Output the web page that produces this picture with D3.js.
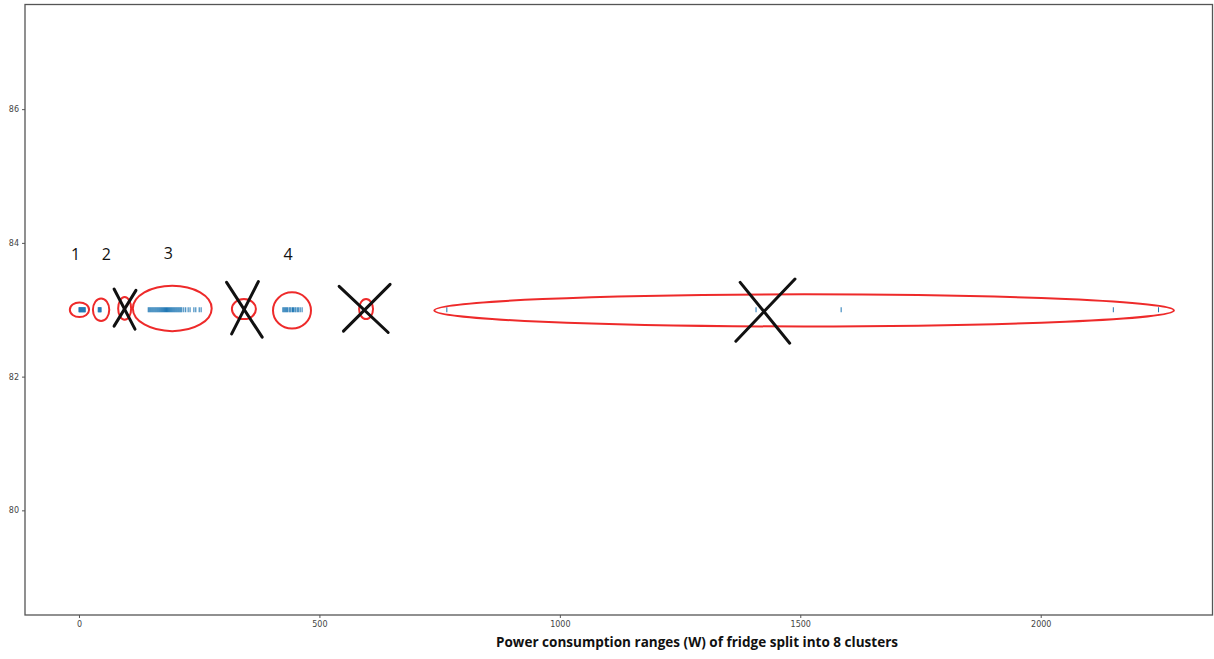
<!DOCTYPE html>
<html>
<head>
<meta charset="utf-8">
<script src="https://cdn.jsdelivr.net/npm/d3@7"></script>
<style>
  html, body { margin: 0; padding: 0; background: #fff; }
  svg { display: block; }
</style>
</head>
<body>
<svg id="chart" width="1214" height="659"></svg>
<script>
// Fridge power readings (W), grouped by cluster; all drawn on one level line
const level = 83;
const clusterOne = [0, 1, 2, 3, 4, 5, 6, 7, 8, 9, 10, 11, 12, 13];
const clusterTwo = [40, 41, 42, 43, 44, 45, 46];
const clusterThree = [144, 146, 148, 150, 152, 154, 156, 158, 160, 162, 164, 166, 168, 170, 172, 174,
  176, 178, 180, 182, 184, 186, 188, 190, 192, 194, 196, 198, 200, 202, 204, 206, 208, 210, 212, 214,
  218, 222, 227, 231, 239, 243, 250, 254];
const clusterFour = [424, 426, 428, 430, 432, 434, 437, 439, 441, 444, 446, 449, 451, 454, 457, 460, 464];
const outliers = [765, 1408, 1585, 2151, 2245];

// Axis settings
const xDomain = [-112.25, 2357.25];
const yDomain = [78.435, 87.565];
const xTicks = [0, 500, 1000, 1500, 2000];
const yTicks = [80, 82, 84, 86];
const xTitle = "Power consumption ranges (W) of fridge split into 8 clusters";

// Hand-drawn notes: ellipses around clusters [centre W, centre y, radius W, radius y]
const ringCentres = [1, 46, 95, 194, 343, 443, 597, 1508];
const ringLevels = [83.0, 83.0, 83.02, 83.02, 83.01, 82.99, 83.01, 82.99];
const ringRadiusW = [20, 17, 13.5, 82, 25, 39.5, 14.5, 769];
const ringRadiusY = [0.11, 0.17, 0.17, 0.34, 0.15, 0.27, 0.15, 0.24];

// Crossed-out clusters: stroke endpoints [w1, y1, w2, y2]
const crossStrokes = [
  [73, 83.31, 116.5, 82.71], [118.5, 83.29, 73, 82.755],
  [307, 83.41, 381, 82.59], [373, 83.42, 317.5, 82.64],
  [541, 83.35, 643, 82.66], [647, 83.38, 550, 82.68],
  [1375, 83.41, 1478, 82.50], [1489, 83.46, 1366, 82.53]
];

// Kept-cluster numbers
const numberTexts = ["1", "2", "3", "4"];
const numberW = [-7, 57, 186, 435];
const numberY = [83.74, 83.74, 83.76, 83.74];

const svg = d3.select("#chart");
const plotLeft = 25, plotRight = 1212.5, plotTop = 4.5, plotBottom = 615;

const x = d3.scaleLinear().domain(xDomain).range([plotLeft, plotRight]);
const y = d3.scaleLinear().domain(yDomain).range([plotBottom, plotTop]);

svg.append("rect").attr("width", 1214).attr("height", 659).attr("fill", "#fff");

// Axes
const xAxis = d3.axisBottom(x).tickValues(xTicks).tickSize(3).tickPadding(3).tickFormat(d3.format("d"));
const yAxis = d3.axisLeft(y).tickValues(yTicks).tickSize(3).tickPadding(3).tickFormat(d3.format("d"));

const gx = svg.append("g").attr("transform", `translate(0,${plotBottom})`).call(xAxis);
const gy = svg.append("g").attr("transform", `translate(${plotLeft},0)`).call(yAxis);
[gx, gy].forEach(g => {
  g.select(".domain").remove();
  g.selectAll(".tick line").attr("stroke", "#555").attr("stroke-width", 1);
  g.selectAll(".tick text").attr("fill", "#444")
    .style("font-family", "'DejaVu Sans', sans-serif").style("font-size", "8px");
});

// Frame
svg.append("rect")
  .attr("x", plotLeft).attr("y", plotTop)
  .attr("width", plotRight - plotLeft).attr("height", plotBottom - plotTop)
  .attr("fill", "none").attr("stroke", "#555").attr("stroke-width", 1.3);

// Vertical-line markers for each reading
const allWatts = [].concat(clusterOne, clusterTwo, clusterThree, clusterFour, outliers);
svg.append("g").selectAll("line").data(allWatts).join("line")
  .attr("x1", d => x(d)).attr("x2", d => x(d))
  .attr("y1", y(level) - 2.5).attr("y2", y(level) + 2.5)
  .attr("stroke", "#1f77b4").attr("stroke-width", 1);

// Red rings
svg.append("g").selectAll("ellipse").data(ringCentres).join("ellipse")
  .attr("cx", (d) => x(d))
  .attr("cy", (d, i) => y(ringLevels[i]))
  .attr("rx", (d, i) => x(d + ringRadiusW[i]) - x(d))
  .attr("ry", (d, i) => y(ringLevels[i] - ringRadiusY[i]) - y(ringLevels[i]))
  .attr("fill", "none").attr("stroke", "#ee2a2a").attr("stroke-width", 2);

// Black crosses
svg.append("g").selectAll("line").data(crossStrokes).join("line")
  .attr("x1", d => x(d[0])).attr("y1", d => y(d[1]))
  .attr("x2", d => x(d[2])).attr("y2", d => y(d[3]))
  .attr("stroke", "#111").attr("stroke-width", 3).attr("stroke-linecap", "round");

// Cluster numbers
svg.append("g").selectAll("text").data(numberTexts).join("text")
  .attr("x", (d, i) => x(numberW[i]))
  .attr("y", (d, i) => y(numberY[i]))
  .attr("text-anchor", "middle")
  .style("font-family", "'Open Sans', 'Noto Sans', sans-serif")
  .style("font-size", "16px")
  .attr("fill", "#111")
  .text(d => d);

// X axis title
svg.append("text")
  .attr("x", 697).attr("y", 647)
  .attr("text-anchor", "middle")
  .attr("textLength", 402).attr("lengthAdjust", "spacingAndGlyphs")
  .style("font-family", "'Open Sans', 'Noto Sans', sans-serif")
  .style("font-weight", "bold")
  .style("font-size", "14px")
  .attr("fill", "#111")
  .text(xTitle);
</script>
</body>
</html>
